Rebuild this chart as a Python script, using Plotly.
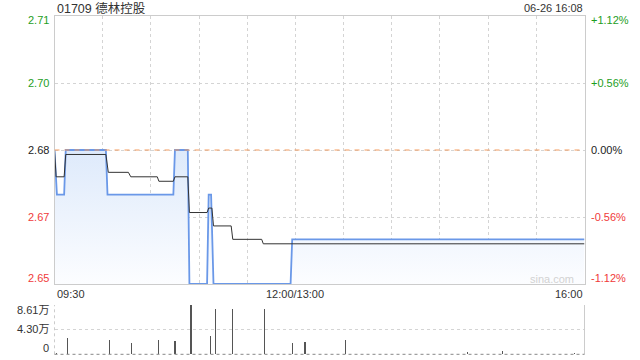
import plotly.graph_objects as go

W, H = 640, 360
prev_close = 2.68
title_text = "01709 德林控股"
date_text = "06-26 16:08"

# minutes since 09:30 on a 330-minute trading axis (lunch break removed)
price_t = [0, 1.5, 6, 7, 32, 33, 74, 75, 83, 84, 95, 96, 97.5, 99, 147, 148, 330]
price_v = [2.68, 2.67, 2.67, 2.68, 2.68, 2.67, 2.67, 2.68, 2.68, 2.65, 2.65, 2.67,
           2.67, 2.65, 2.65, 2.66, 2.66]

avg_t = [0, 1, 6, 7, 32, 33.5, 46, 47.5, 64, 65, 74, 75, 83, 84, 95, 96, 98, 99,
         110, 111, 129, 130, 330]
avg_v = [2.68, 2.674, 2.674, 2.679, 2.679, 2.675, 2.675, 2.674, 2.674, 2.673, 2.673,
         2.674, 2.674, 2.666, 2.666, 2.667, 2.667, 2.663, 2.663, 2.660, 2.660, 2.659, 2.659]

vol_t = [1, 8, 34, 48, 65, 75, 85, 97, 100, 111, 131, 148, 156, 181, 257, 279, 324, 330]
vol_v = [0.3, 2.90, 2.55, 1.98, 2.55, 2.33, 8.61, 3.25, 7.92, 7.92, 7.92, 1.98, 2.15,
         2.55, 0.4, 0.6, 0.2, 2.10]  # 万

price_ticks = [2.71, 2.695, 2.68, 2.665, 2.65]
price_labels = ["2.71", "2.70", "2.68", "2.67", "2.65"]
pct_labels = ["+1.12%", "+0.56%", "0.00%", "-0.56%", "-1.12%"]
label_colors = ["#1e9e1e", "#1e9e1e", "#222222", "#f03a3a", "#f03a3a"]
label_shift = [-4.5, 0, 0, 0, 6]

vol_ticks = [8.61, 4.30, 0]
vol_labels = ["8.61万", "4.30万", "0"]
vol_shift = [-5, 1, 6.5]

time_ticks = [0, 150, 330]
time_labels = ["09:30", "12:00/13:00", "16:00"]

FONT = "Liberation Sans, Arial, Noto Sans CJK SC, sans-serif"
GRID = "#d4d4d4"

x0p, x1p = 54.5 / W, 584.5 / W
main_dom = [1 - 284 / H, 1 - 16 / H]
vol_dom = [1 - 354.3 / H, 1 - 305 / H]

fig = go.Figure()

fig.add_trace(go.Scatter(
    x=price_t, y=price_v, mode="lines", xaxis="x", yaxis="y",
    line=dict(color="#6a98e8", width=1.8), fill="tozeroy",
    fillgradient=dict(type="vertical", start=2.65, stop=2.68,
                      colorscale=[[0, "rgba(252,253,255,1)"], [1, "rgba(222,234,251,1)"]]),
    hoverinfo="skip"))
fig.add_trace(go.Scatter(
    x=avg_t, y=avg_v, mode="lines", xaxis="x", yaxis="y",
    line=dict(color="#333333", width=1), hoverinfo="skip"))
fig.add_trace(go.Bar(
    x=vol_t, y=vol_v, xaxis="x2", yaxis="y2", width=0.7,
    marker=dict(color="#555555", line=dict(width=0)), hoverinfo="skip"))

ann = []
ann.append(dict(text=title_text, x=x0p, y=1 - 8 / H, xref="paper", yref="paper",
                xanchor="left", yanchor="middle", showarrow=False,
                font=dict(size=12.5, color="#333333", family=FONT)))
ann.append(dict(text=date_text, x=x1p, y=1 - 8 / H, xref="paper", yref="paper",
                xanchor="right", yanchor="middle", showarrow=False,
                font=dict(size=11, color="#333333", family=FONT)))
for v, t, p, c, s in zip(price_ticks, price_labels, pct_labels, label_colors, label_shift):
    ann.append(dict(text=t, x=51 / W, y=v, xref="paper", yref="y", xanchor="right",
                    yanchor="middle", yshift=s, showarrow=False,
                    font=dict(size=11, color=c, family=FONT)))
    ann.append(dict(text=p, x=589 / W, y=v, xref="paper", yref="y", xanchor="left",
                    yanchor="middle", yshift=s, showarrow=False,
                    font=dict(size=11, color=c, family=FONT)))
for t, lab, anc in zip(time_ticks, time_labels, ["left", "center", "right"]):
    ann.append(dict(text=lab, x=t, y=1 - 293.5 / H, xref="x", yref="paper", xanchor=anc,
                    yanchor="middle", showarrow=False,
                    font=dict(size=11, color="#333333", family=FONT)))
for v, lab, s in zip(vol_ticks, vol_labels, vol_shift):
    ann.append(dict(text=lab, x=50.5 / W, y=v, xref="paper", yref="y2", xanchor="right",
                    yanchor="middle", yshift=s, showarrow=False,
                    font=dict(size=11, color="#333333", family=FONT)))
ann.append(dict(text="sina.com", x=552 / W, y=1 - 279 / H, xref="paper", yref="paper",
                xanchor="center", yanchor="middle", showarrow=False,
                font=dict(size=11, color="#d2d2d2", family=FONT)))

shapes = [
    dict(type="line", xref="x", yref="y", x0=0, x1=330, y0=prev_close, y1=prev_close,
         line=dict(color="#f39a5c", width=1, dash="5px,5px")),
    dict(type="line", xref="paper", yref="paper", x0=x1p, x1=x1p,
         y0=vol_dom[0], y1=vol_dom[1], line=dict(color="#cccccc", width=1)),
    dict(type="line", xref="paper", yref="paper", x0=x0p, x1=x0p,
         y0=vol_dom[0], y1=vol_dom[1], line=dict(color="#cccccc", width=1, dash="dot")),
    dict(type="line", xref="paper", yref="paper", x0=x0p, x1=x1p,
         y0=vol_dom[0], y1=vol_dom[0], line=dict(color="#888888", width=1, dash="dot")),
]

fig.update_layout(
    width=W, height=H, margin=dict(l=0, r=0, t=0, b=0),
    paper_bgcolor="white", plot_bgcolor="white", showlegend=False,
    hovermode=False, bargap=0,
    xaxis=dict(domain=[x0p, x1p], range=[0, 330], tickvals=list(range(0, 331, 30)),
               showticklabels=False, ticks="", showgrid=True, gridcolor=GRID,
               griddash="dot", gridwidth=1, zeroline=False, showline=True,
               linecolor="#cccccc", linewidth=1, mirror=True, anchor="y", fixedrange=True),
    yaxis=dict(domain=main_dom, range=[2.65, 2.71], tickvals=price_ticks,
               showticklabels=False, ticks="", showgrid=True, gridcolor=GRID,
               griddash="dot", zeroline=False, showline=True, linecolor="#cccccc",
               linewidth=1, mirror=True, anchor="x", fixedrange=True),
    xaxis2=dict(domain=[x0p, x1p], range=[0, 330], showticklabels=False, ticks="",
                showgrid=False, zeroline=False, showline=False, anchor="y2",
                fixedrange=True),
    yaxis2=dict(domain=vol_dom, range=[0, 8.61], tickvals=[4.30, 8.61],
                showticklabels=False, ticks="", showgrid=True, gridcolor=GRID,
                griddash="dot", zeroline=False, showline=False, anchor="x2",
                fixedrange=True),
    annotations=ann, shapes=shapes,
)

fig.write_html("out.html", config={"displayModeBar": False, "staticPlot": True})
